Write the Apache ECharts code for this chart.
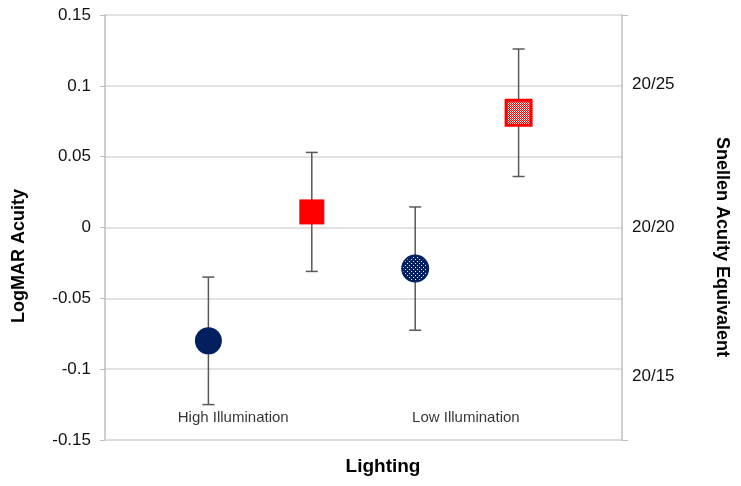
<!DOCTYPE html>
<html>
<head>
<meta charset="utf-8">
<script src="https://cdn.jsdelivr.net/npm/echarts@6/dist/echarts.min.js"></script>
<style>
  html, body { margin: 0; padding: 0; background: #fff; }
  #chart { width: 741px; height: 486px; }
</style>
</head>
<body>
<div id="chart"></div>
<script>
// ---- data ----
const groups = ['High Illumination', 'Low Illumination'];
const circleValues = [-0.08, -0.029];
const circleErrors = [0.045, 0.0435];
const squareValues = [0.011, 0.081];
const squareErrors = [0.042, 0.045];
const logmarTicks = [-0.15, -0.1, -0.05, 0, 0.05, 0.1, 0.15];
const snellenLabels = ['20/25', '20/20', '20/15'];
const snellenValues = [0.101, 0, -0.105];

// ---- patterns ----
function makePattern(w, h, bg, fg, pts) {
  const c = document.createElement('canvas');
  c.width = w; c.height = h;
  const ctx = c.getContext('2d');
  ctx.fillStyle = bg; ctx.fillRect(0, 0, w, h);
  ctx.fillStyle = fg;
  pts.forEach(p => ctx.fillRect(p[0], p[1], 1, 1));
  return { image: c, repeat: 'repeat' };
}
const navyDots = makePattern(4, 4, '#002060', '#e8eefa', [[1, 1], [3, 3]]);
const redChecker = makePattern(2, 2, '#ff0000', '#ffe0e0', [[1, 0], [0, 1]]);

const NAVY = '#002060', RED = '#ff0000';

// marker records: [x, value, error, shape(0 circle / 1 square), patterned(0/1)]
const markData = [];
groups.forEach((g, i) => {
  markData.push([1 + 2 * i, circleValues[i], circleErrors[i], 0, i]);
  markData.push([2 + 2 * i, squareValues[i], squareErrors[i], 1, i]);
});
const labelX = [1.24, 3.49];
const labelData = groups.map((g, i) => ({ value: [labelX[i], -0.1345], name: g }));

const chart = echarts.init(document.getElementById('chart'), null, { renderer: 'canvas' });
const FONT = '"Liberation Sans", Arial, sans-serif';

chart.setOption({
  animation: false,
  backgroundColor: '#fff',
  grid: { left: 105, right: 119, top: 15, bottom: 46 },
  xAxis: {
    type: 'value', min: 0, max: 5,
    axisLine: { show: true, onZero: false, lineStyle: { color: '#d9d9d9', width: 1.5 } },
    axisTick: { show: false },
    axisLabel: { show: false },
    splitLine: { show: false }
  },
  yAxis: [{
    type: 'value', min: -0.15, max: 0.15, interval: 0.05,
    position: 'left',
    axisLine: { show: true, lineStyle: { color: '#bfbfbf', width: 1.5 } },
    axisTick: { show: true, length: 5, lineStyle: { color: '#bfbfbf' } },
    axisLabel: { color: '#111', fontSize: 17, fontFamily: FONT, margin: 14,
      formatter: v => String(Math.round(v * 100) / 100) },
    splitLine: { show: true, lineStyle: { color: '#d9d9d9', width: 1.5 } }
  }, {
    type: 'value', min: -0.15, max: 0.15,
    position: 'right',
    axisLine: { show: true, lineStyle: { color: '#bfbfbf', width: 1.5 } },
    axisTick: { show: true, length: 6, customValues: [-0.15, 0.15], lineStyle: { color: '#bfbfbf' } },
    axisLabel: { color: '#111', fontSize: 17, fontFamily: FONT, margin: 10,
      customValues: snellenValues,
      formatter: v => {
        const i = snellenValues.findIndex(s => Math.abs(s - v) < 1e-6);
        return i >= 0 ? snellenLabels[i] : '';
      } },
    splitLine: { show: false }
  }],
  graphic: [
    { type: 'text', rotation: Math.PI / 2, x: 19, y: 256,
      style: { text: 'LogMAR Acuity', font: 'bold 18px ' + FONT, fill: '#000',
        align: 'center', verticalAlign: 'middle' } },
    { type: 'text', rotation: -Math.PI / 2, x: 722, y: 247,
      style: { text: 'Snellen Acuity Equivalent', font: 'bold 18px ' + FONT, fill: '#000',
        align: 'center', verticalAlign: 'middle' } },
    { type: 'text', x: 383, y: 467,
      style: { text: 'Lighting', font: 'bold 19px ' + FONT, fill: '#000',
        align: 'center', verticalAlign: 'middle' } }
  ],
  series: [{
    type: 'custom',
    data: markData,
    z: 2,
    renderItem: (params, api) => {
      const x = api.value(0), m = api.value(1), e = api.value(2);
      const shape = api.value(3), pat = api.value(4);
      const top = api.coord([x, m + e]);
      const bot = api.coord([x, m - e]);
      const c = api.coord([x, m]);
      const cap = 6;
      const st = { stroke: '#595959', lineWidth: 1.5 };
      const children = [
        { type: 'line', shape: { x1: top[0], y1: top[1], x2: bot[0], y2: bot[1] }, style: st },
        { type: 'line', shape: { x1: top[0] - cap, y1: top[1], x2: top[0] + cap, y2: top[1] }, style: st },
        { type: 'line', shape: { x1: bot[0] - cap, y1: bot[1], x2: bot[0] + cap, y2: bot[1] }, style: st }
      ];
      if (shape === 0) {
        children.push({ type: 'circle', shape: { cx: c[0], cy: c[1], r: pat ? 13 : 13.5 },
          style: pat ? { fill: navyDots, stroke: NAVY, lineWidth: 2 } : { fill: NAVY } });
      } else {
        const s = 25;
        children.push({ type: 'rect', shape: { x: c[0] - s / 2, y: c[1] - s / 2, width: s, height: s },
          style: pat ? { fill: redChecker, stroke: RED, lineWidth: 3 } : { fill: RED } });
      }
      return { type: 'group', children };
    }
  }, {
    type: 'scatter', name: 'labels', symbolSize: 0, z: 4, silent: true,
    data: labelData,
    label: { show: true, position: 'inside', formatter: p => p.name,
      color: '#000', fontSize: 15, fontFamily: FONT }
  }]
});
</script>
</body>
</html>
